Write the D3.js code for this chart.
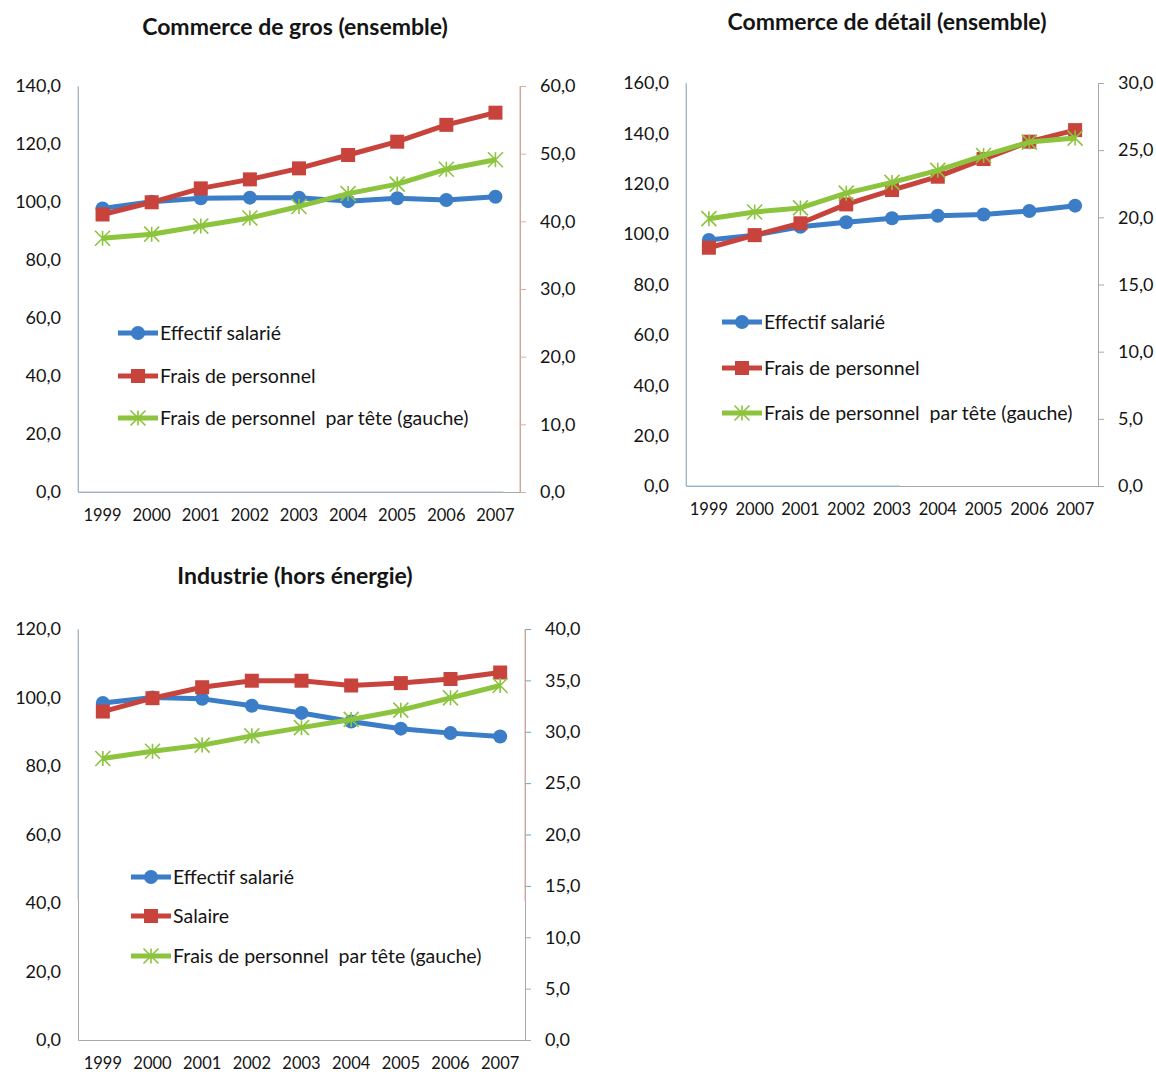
<!DOCTYPE html>
<html lang="fr">
<head>
<meta charset="utf-8">
<script src="https://d3js.org/d3.v7.min.js"></script>
<style>
  body { margin: 0; background: #fff; }
  svg text { font-family: Lato, "Open Sans", sans-serif; fill: #141414; white-space: pre; }
  .title { font-weight: bold; font-size: 23px; }
  .tick text { font-size: 18px; }
  .legend text { font-size: 19.5px; }
</style>
</head>
<body>
<svg id="chart" width="1156" height="1072"></svg>
<script>
// années communes
var years = ["1999", "2000", "2001", "2002", "2003", "2004", "2005", "2006", "2007"];

// Commerce de gros
var grosEffectif = [97.8, 100.1, 101.3, 101.5, 101.5, 100.3, 101.3, 100.7, 101.8];
var grosFrais = [95.7, 99.9, 104.7, 107.8, 111.6, 116.2, 120.8, 126.6, 130.8];
var grosParTete = [37.5, 38.1, 39.3, 40.5, 42.2, 44.1, 45.5, 47.7, 49.1];
var grosLeftTicks = [0, 20, 40, 60, 80, 100, 120, 140];
var grosRightTicks = [0, 10, 20, 30, 40, 50, 60];

// Commerce de détail
var detailEffectif = [97.7, 99.6, 102.9, 104.7, 106.3, 107.3, 107.8, 109.2, 111.3];
var detailFrais = [94.6, 99.6, 104.3, 111.8, 117.5, 122.8, 129.8, 136.7, 141.3];
var detailParTete = [19.9, 20.4, 20.7, 21.8, 22.6, 23.5, 24.6, 25.6, 25.9];
var detailLeftTicks = [0, 20, 40, 60, 80, 100, 120, 140, 160];
var detailRightTicks = [0, 5, 10, 15, 20, 25, 30];

// Industrie hors énergie
var indEffectif = [98.4, 100.0, 99.6, 97.6, 95.5, 93.0, 90.9, 89.6, 88.6];
var indSalaire = [95.9, 99.8, 103.0, 104.9, 104.9, 103.5, 104.2, 105.4, 107.3];
var indParTete = [27.4, 28.1, 28.7, 29.6, 30.4, 31.2, 32.1, 33.3, 34.5];
var indLeftTicks = [0, 20, 40, 60, 80, 100, 120];
var indRightTicks = [0, 5, 10, 15, 20, 25, 30, 35, 40];

var BLUE = "#3b7dc6", RED = "#c8433c", GREEN = "#8cc43d";
var GREY = "#a8a8a8", PALEBLUE = "#a9c6dc", SALMON = "#e3aa98";
var fmt = function(d) { return d3.format(".1f")(d).replace(".", ","); };

var svg = d3.select("#chart");

function drawChart(c) {
  var g = svg.append("g");

  var x = d3.scaleBand().domain(years).range([c.left, c.right]);
  var yL = d3.scaleLinear().domain([0, d3.max(c.leftTicks)]).range([c.bottom, c.top]);
  var yR = d3.scaleLinear().domain([0, d3.max(c.rightTicks)]).range([c.bottom, c.top]);

  g.append("text").attr("class", "title")
    .attr("x", c.titleX).attr("y", c.titleY)
    .attr("text-anchor", "middle").text(c.title);

  // axe gauche (sans graduations)
  var ga = g.append("g").attr("transform", "translate(" + c.left + ",0)")
    .call(d3.axisLeft(yL).tickValues(c.leftTicks).tickSize(0).tickPadding(17).tickFormat(fmt));
  ga.select(".domain").attr("stroke", GREY);
  // partie haute de l'axe en bleu pâle (scan)
  g.append("line").attr("x1", c.left).attr("x2", c.left)
    .attr("y1", c.top).attr("y2", yL(c.leftSplit))
    .attr("stroke", PALEBLUE);

  // axe droit
  var gr = g.append("g").attr("transform", "translate(" + c.right + ",0)")
    .call(d3.axisRight(yR).tickValues(c.rightTicks).tickSize(6).tickPadding(14).tickFormat(fmt));
  gr.select(".domain").attr("stroke", GREY);
  gr.selectAll(".tick line").attr("stroke", function(d) {
    return d >= c.rightSplit ? c.rightTickColor : GREY;
  });
  g.append("line").attr("x1", c.right).attr("x2", c.right)
    .attr("y1", c.top).attr("y2", yR(c.rightSplit))
    .attr("stroke", c.rightColor);

  // axe du bas
  var gb = g.append("g").attr("transform", "translate(0," + c.bottom + ")")
    .call(d3.axisBottom(x).tickSize(0).tickPadding(17));
  gb.select(".domain").attr("stroke", GREY);
  gb.selectAll(".tick text").style("font-size", "16.5px");
  if (c.bottomSplit) {
    g.append("line").attr("x1", c.left).attr("x2", x(c.bottomSplit) + x.bandwidth() / 2 + 8)
      .attr("y1", c.bottom).attr("y2", c.bottom)
      .attr("stroke", c.bottomColor);
  }

  var line = function(sc) {
    return d3.line().x(function(d, i) { return x(years[i]) + x.bandwidth() / 2; })
      .y(function(d) { return sc(d); });
  };

  var series = [
    { vals: c.s1, sc: yL, color: BLUE, mark: "circle" },
    { vals: c.s2, sc: yL, color: RED, mark: "square" },
    { vals: c.s3, sc: yR, color: GREEN, mark: "star" }
  ];

  series.forEach(function(s) {
    g.append("path").datum(s.vals)
      .attr("fill", "none").attr("stroke", s.color).attr("stroke-width", 5)
      .attr("stroke-linejoin", "round")
      .attr("d", line(s.sc));
    s.vals.forEach(function(v, i) {
      drawMarker(g, s.mark, x(years[i]) + x.bandwidth() / 2, s.sc(v), s.color);
    });
  });

  // légende
  var lg = g.append("g").attr("class", "legend");
  [c.l1, c.l2, c.l3].forEach(function(lab, i) {
    var yy = c.legY[i];
    lg.append("line").attr("x1", c.legX).attr("x2", c.legX + 40)
      .attr("y1", yy).attr("y2", yy)
      .attr("stroke", series[i].color).attr("stroke-width", 5);
    drawMarker(lg, series[i].mark, c.legX + 20, yy, series[i].color);
    lg.append("text").attr("x", c.legX + 42).attr("y", yy).attr("dy", "0.35em").text(lab);
  });
}

function drawMarker(g, type, cx, cy, color) {
  if (type === "circle") {
    g.append("circle").attr("cx", cx).attr("cy", cy).attr("r", 7).attr("fill", color);
  } else if (type === "square") {
    g.append("rect").attr("x", cx - 7).attr("y", cy - 7)
      .attr("width", 14).attr("height", 14).attr("fill", color);
  } else {
    var r = 7.5;
    var p = "M" + (cx - r) + "," + (cy - r) + "L" + (cx + r) + "," + (cy + r) +
      "M" + (cx - r) + "," + (cy + r) + "L" + (cx + r) + "," + (cy - r) +
      "M" + cx + "," + (cy - r) + "L" + cx + "," + (cy + r);
    g.append("path").attr("d", p).attr("stroke", color).attr("stroke-width", 1.6).attr("fill", "none");
  }
}

drawChart({
  title: "Commerce de gros (ensemble)", titleX: 295, titleY: 35,
  left: 78, right: 520, top: 86, bottom: 492,
  leftTicks: grosLeftTicks, rightTicks: grosRightTicks,
  s1: grosEffectif, s2: grosFrais, s3: grosParTete,
  l1: "Effectif salarié", l2: "Frais de personnel", l3: "Frais de personnel  par tête (gauche)",
  legX: 118, legY: [333, 376, 418],
  leftSplit: 0, rightSplit: 0, rightColor: SALMON, rightTickColor: SALMON,
  bottomSplit: "2007", bottomColor: "#9fbccc"
});

drawChart({
  title: "Commerce de détail (ensemble)", titleX: 887, titleY: 30,
  left: 686, right: 1098, top: 83, bottom: 486,
  leftTicks: detailLeftTicks, rightTicks: detailRightTicks,
  s1: detailEffectif, s2: detailFrais, s3: detailParTete,
  l1: "Effectif salarié", l2: "Frais de personnel", l3: "Frais de personnel  par tête (gauche)",
  legX: 722, legY: [322, 368, 413],
  leftSplit: 0, rightSplit: 30, rightColor: GREY, rightTickColor: GREY,
  bottomSplit: "2003", bottomColor: "#8fc0d8"
});

drawChart({
  title: "Industrie (hors énergie)", titleX: 295, titleY: 584,
  left: 78, right: 525, top: 629, bottom: 1040,
  leftTicks: indLeftTicks, rightTicks: indRightTicks,
  s1: indEffectif, s2: indSalaire, s3: indParTete,
  l1: "Effectif salarié", l2: "Salaire", l3: "Frais de personnel  par tête (gauche)",
  legX: 131, legY: [877, 916, 956],
  leftSplit: 41, rightSplit: 13.5, rightColor: SALMON, rightTickColor: "#5aaad0",
  bottomSplit: null, bottomColor: GREY
});
</script>
</body>
</html>
